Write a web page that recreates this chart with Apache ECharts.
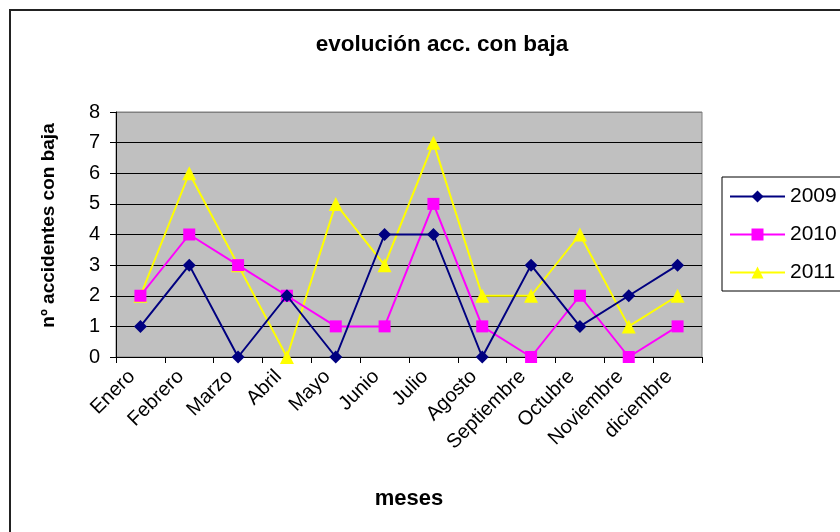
<!DOCTYPE html>
<html><head><meta charset="utf-8">
<script src="https://cdn.jsdelivr.net/npm/echarts@6/dist/echarts.min.js"></script>
<style>html,body{margin:0;padding:0;background:#fff}#c{width:840px;height:532px}</style>
</head><body><div id="c"></div>
<script>
var months = ['Enero','Febrero','Marzo','Abril','Mayo','Junio','Julio','Agosto','Septiembre','Octubre','Noviembre','diciembre'];
var s2009 = [1,3,0,2,0,4,4,0,3,1,2,3];
var s2010 = [2,4,3,2,1,1,5,1,0,2,0,1];
var s2011 = [2,6,3,0,5,3,7,2,2,4,1,2];
var yTicks = [0,1,2,3,4,5,6,7,8];

var chart = echarts.init(document.getElementById('c'), null, {renderer:'canvas'});
var ff = 'Liberation Sans, Arial, sans-serif';
chart.setOption({
  animation:false,
  backgroundColor:'#fff',
  textStyle:{fontFamily:ff},
  title:{text:'evolución acc. con baja', left:437, top:28, textAlign:'center',
    textStyle:{fontFamily:ff, fontSize:22.5, fontWeight:'bold', color:'#000'}},
  graphic:[{type:'rect', shape:{x:10,y:10,width:900,height:600},
    style:{fill:'none', stroke:'#222', lineWidth:2}, z:-1}],
  grid:{left:116, top:112, right:138, bottom:175, show:true, backgroundColor:'#C0C0C0',
    borderColor:'#808080', borderWidth:1},
  legend:{orient:'vertical', left:722, top:177, padding:[9,60,8,7], itemGap:17,
    borderColor:'#000', borderWidth:1, backgroundColor:'#fff',
    itemWidth:55, itemHeight:15,
    textStyle:{fontFamily:ff, fontSize:21, color:'#000', padding:[0,0,0,0]},
    data:['2009','2010','2011']},
  xAxis:{type:'category', data:months, boundaryGap:true,
    name:'meses', nameLocation:'middle', nameGap:131,
    nameTextStyle:{fontFamily:ff, fontSize:22, fontWeight:'bold', color:'#000'},
    axisLine:{lineStyle:{color:'#000', width:1}},
    axisTick:{show:true, length:6, inside:false, alignWithLabel:false, lineStyle:{color:'#000'}},
    axisLabel:{rotate:45, interval:0, margin:8, padding:[0,12,0,0], fontFamily:ff, fontSize:20, color:'#000'},
    splitLine:{show:false}},
  yAxis:{type:'value', min:0, max:8, interval:1,
    name:'nº accidentes con baja', nameLocation:'middle', nameGap:58,
    nameTextStyle:{fontFamily:ff, fontSize:19, fontWeight:'bold', color:'#000', padding:[0,0,0,18]},
    axisLine:{show:true, lineStyle:{color:'#000'}},
    axisTick:{show:true, length:6, lineStyle:{color:'#000'}},
    axisLabel:{fontFamily:ff, fontSize:20, color:'#000', margin:16,
      formatter:function(v){return yTicks.indexOf(v)>=0? String(v):'';}},
    splitLine:{show:true, lineStyle:{color:['#000','#000','#000','#000','#000','#000','#000','#000','#808080'], width:1}}},
  series:[
    {name:'2009', type:'line', data:s2009, symbol:'diamond', symbolSize:13,
      itemStyle:{color:'#000080'}, lineStyle:{color:'#000080', width:2}, z:4},
    {name:'2010', type:'line', data:s2010, symbol:'rect', symbolSize:12,
      itemStyle:{color:'#FF00FF'}, lineStyle:{color:'#FF00FF', width:2}, z:3},
    {name:'2011', type:'line', data:s2011, symbol:'triangle', symbolSize:14,
      itemStyle:{color:'#FFFF00'}, lineStyle:{color:'#FFFF00', width:2}, z:2}
  ]
});
</script></body></html>
